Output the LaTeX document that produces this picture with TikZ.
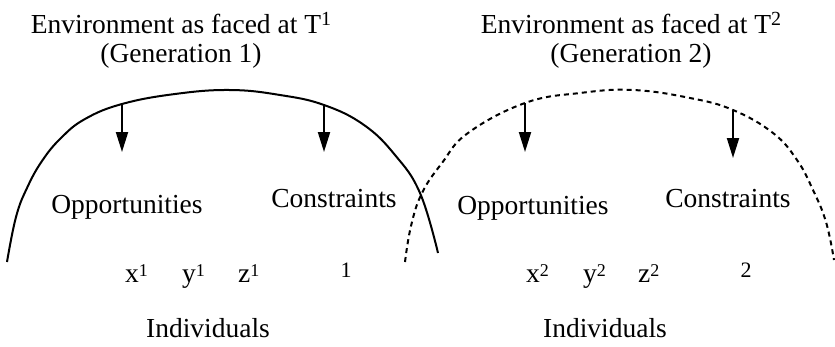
\documentclass[tikz,border=0pt]{standalone}
\usepackage{fontspec}
\setmainfont{Liberation Serif}
\usetikzlibrary{arrows.meta}
\tikzstyle{lbl}=[inner sep=0pt,anchor=base,font=\fontsize{27.5}{29}\selectfont]
\tikzstyle{idx}=[lbl,anchor=base west]
\tikzstyle{gen}=[inner sep=0pt,anchor=base,font=\fontsize{22}{22}\selectfont]
\tikzstyle{env}=[line width=2pt]
\tikzstyle{envnext}=[line width=2pt,dash pattern=on 5pt off 4pt]
\tikzstyle{arr}=[-{Triangle[length=20pt,width=12pt]},line width=2pt]
\newcommand{\upidx}[3]{\raisebox{#1}{\fontsize{#2}{#2}\selectfont #3}}

\begin{document}
\begin{tikzpicture}[x=1pt,y=-1pt]
\useasboundingbox (0,0) rectangle (835,346);
% titles
\node[lbl] (envA) at (181,33) {Environment as faced at T\upidx{8pt}{20}{1}};
\node[lbl] (genA) at (181,62) {(Generation 1)};
\node[lbl] (envB) at (631,33) {Environment as faced at T\upidx{8pt}{20}{2}};
\node[lbl] (genB) at (631,62) {(Generation 2)};
% environment curves
\draw[env] plot[smooth,tension=0.7] coordinates {(7,262) (16,217) (27,188) (42,161) (61,138) (85,119) (122,104) (175,94) (230,90) (280,95) (324,105) (364,125) (395,155) (420,193) (438,253)};
\draw[envnext] plot[smooth,tension=0.7] coordinates {(405,262) (411,226) (422,193) (442,163) (468,133) (525,103) (580,93) (633,90) (690,98) (733,110) (773,133) (797,160) (813,190) (826,222) (834,260)};
% arrows from the environment
\coordinate (oppAtop) at (122,104);
\coordinate (oppAtip) at (122,152);
\coordinate (conAtop) at (324,105);
\coordinate (conAtip) at (324,152);
\coordinate (oppBtop) at (525,103);
\coordinate (oppBtip) at (525,152);
\coordinate (conBtop) at (733,110);
\coordinate (conBtip) at (733,158);
\draw[arr] (oppAtop) -- (oppAtip);
\draw[arr] (conAtop) -- (conAtip);
\draw[arr] (oppBtop) -- (oppBtip);
\draw[arr] (conBtop) -- (conBtip);
% generation 1
\node[lbl] (oppA) at (127,213) {Opportunities};
\node[lbl] (conA) at (334,207) {Constraints};
\node[idx] (xA) at (125,282) {x\upidx{6pt}{18}{1}};
\node[idx] (yA) at (182,282) {y\upidx{6pt}{18}{1}};
\node[idx] (zA) at (238,282) {z\upidx{6pt}{18}{1}};
\node[gen] (numA) at (346,277) {1};
\node[lbl] (indA) at (208,337) {Individuals};
% generation 2
\node[lbl] (oppB) at (533,214) {Opportunities};
\node[lbl] (conB) at (728,207) {Constraints};
\node[idx] (xB) at (526,282) {x\upidx{6pt}{18}{2}};
\node[idx] (yB) at (583,282) {y\upidx{6pt}{18}{2}};
\node[idx] (zB) at (638,282) {z\upidx{6pt}{18}{2}};
\node[gen] (numB) at (746,277) {2};
\node[lbl] (indB) at (605,337) {Individuals};
\end{tikzpicture}
\end{document}
